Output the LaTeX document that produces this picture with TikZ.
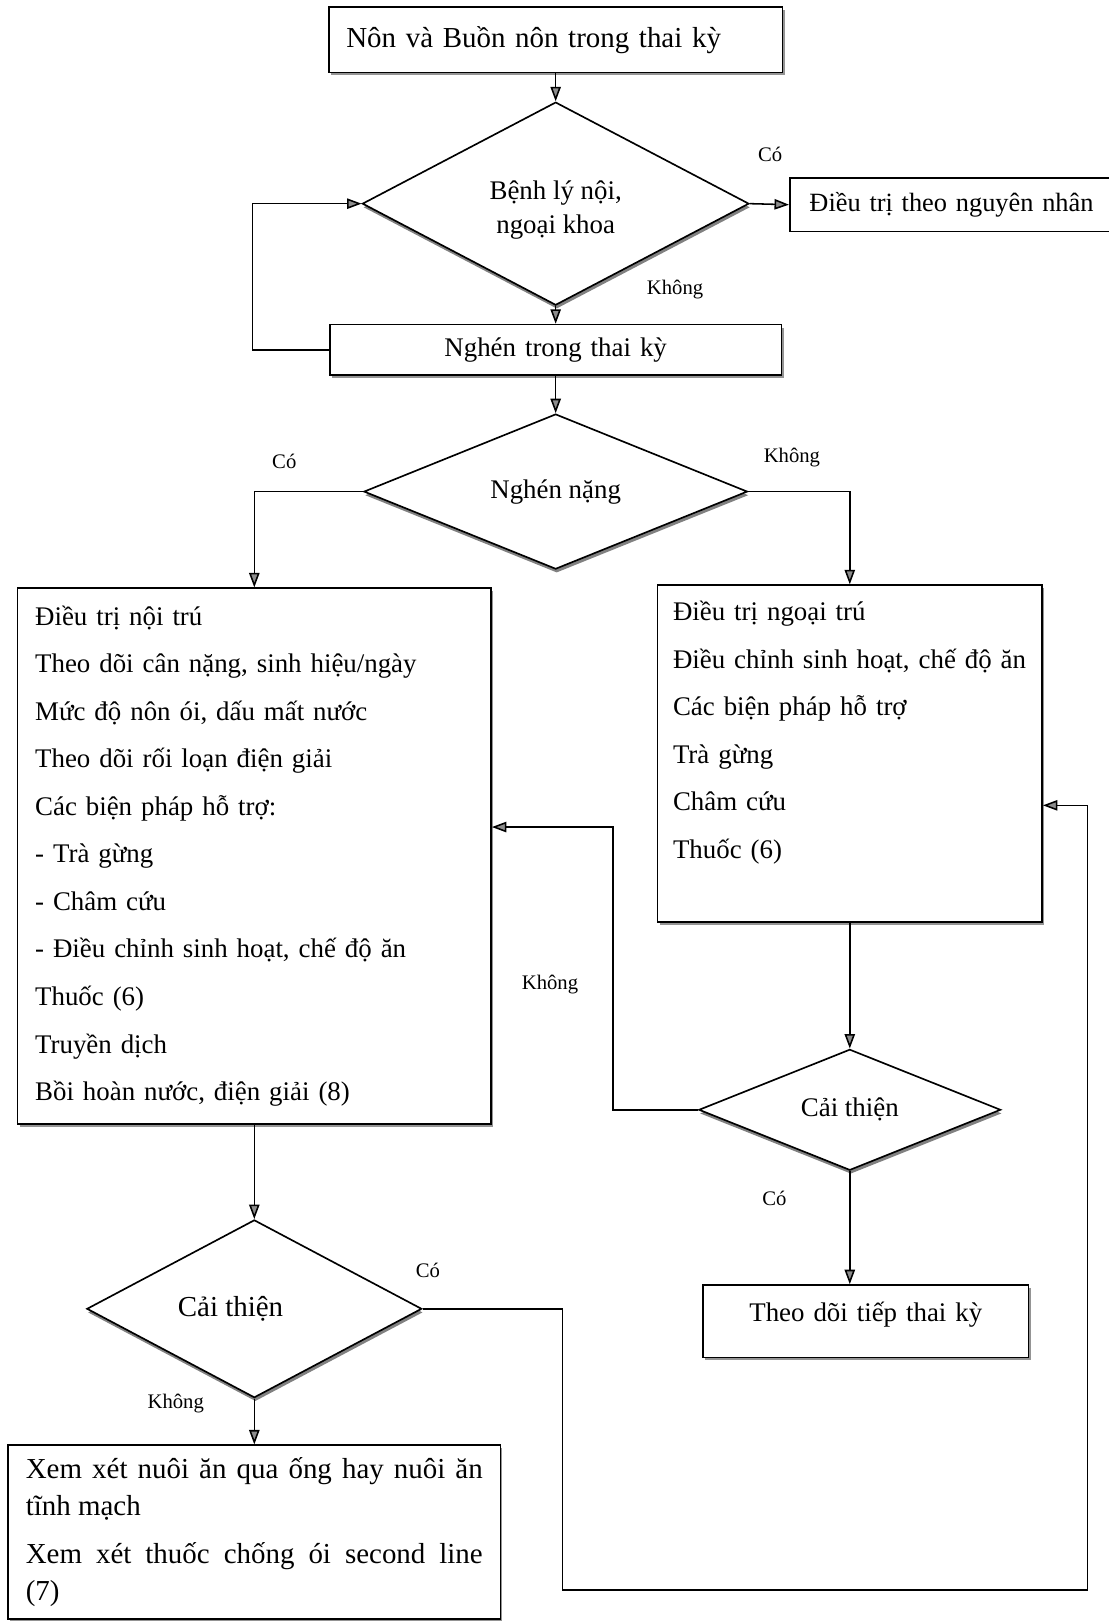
\documentclass[tikz,border=0pt]{standalone}
\usepackage{fontspec}
\setmainfont{Liberation Serif}
\usetikzlibrary{shapes.geometric,arrows.meta,shadows}
\setlength{\parindent}{0pt}

\begin{document}
\begin{tikzpicture}[x=1pt,y=-1pt,
    plain/.style={draw, line width=1.6pt, fill=white, rectangle, inner xsep=17pt, inner ysep=0pt, align=left, font=\fontsize{26}{46}\selectfont},
    box/.style={plain, drop shadow={shadow xshift=2pt, shadow yshift=-3pt, fill=black!70, opacity=0.6}},
    ask/.style={draw, line width=1.6pt, fill=white, diamond, inner sep=0pt, align=center, font=\fontsize{26}{33}\selectfont, drop shadow={shadow xshift=1pt, shadow yshift=-3.5pt, fill=black!70, opacity=0.7}},
    lbl/.style={font=\fontsize{20}{24}\selectfont, inner sep=0pt},
    arr/.style={line width=1.5pt, -{Triangle[length=14pt,width=10pt,fill=black!45]}}
]
    \useasboundingbox (0,0) rectangle (1072,1568);

    % boxes and questions
    \node[box, text width=405pt, minimum height=63pt, font=\fontsize{28}{30}\selectfont] (start) at (537.5,38.5) {Nôn và Buồn nôn trong thai kỳ};
    \node[ask, minimum width=374pt, minimum height=124pt] (benh) at (537.5,197) {\rule{0pt}{30pt}Bệnh lý nội,\\ngoại khoa};
    \node[plain, text width=298pt, inner xsep=19pt, minimum height=52pt, font=\fontsize{25.5}{30}\selectfont] (cause) at (932,198) {Điều trị theo nguyên nhân};
    \node[box, text width=403pt, align=center, minimum height=49pt] (nghen) at (537.5,338.5) {Nghén trong thai kỳ};
    \node[ask, minimum width=371pt, minimum height=109pt] (nang) at (537.5,475.5) {Nghén nặng};

    \node[box, text width=424pt, minimum height=518pt] (noitru) at (246,828) {Điều trị nội trú\\Theo dõi cân nặng, sinh hiệu/ngày\\Mức độ nôn ói, dấu mất nước\\Theo dõi rối loạn điện giải\\Các biện pháp hỗ trợ:\\- Trà gừng\\- Châm cứu\\- Điều chỉnh sinh hoạt, chế độ ăn\\Thuốc (6)\\Truyền dịch\\Bồi hoàn nước, điện giải (8)};
    \node[box, text width=342pt, inner xsep=15pt, minimum height=326pt] (ngoaitru) at (822,729) {Điều trị ngoại trú\\Điều chỉnh sinh hoạt, chế độ ăn\\Các biện pháp hỗ trợ\\Trà gừng\\Châm cứu\\Thuốc (6)\\ \mbox{}};

    \node[ask, minimum width=292pt, minimum height=81pt] (caithien1) at (822,1073.5) {Cải thiện};
    \node[box, text width=281pt, align=center, minimum height=70pt] (theodoi) at (837.5,1278) {Theo dõi tiếp thai kỳ\\[-28pt]\mbox{}};
    \node[ask, minimum width=324pt, minimum height=94pt, font=\fontsize{28}{33}\selectfont] (caithien2) at (246,1266) {Cải thiện\hspace*{46pt}};
    \node[box, text width=442pt, align=justify, minimum height=168pt, font=\fontsize{28}{36}\selectfont] (nuoian) at (246,1482) {Xem xét nuôi ăn qua ống hay nuôi ăn\linebreak tĩnh mạch\par\vspace{10pt}Xem xét thuốc chống ói second line\linebreak (7)};

    % labels
    \node[lbl] (co1) at (745,149) {Có};
    \node[lbl] (khong1) at (653,280) {Không};
    \node[lbl] (co2) at (275,446) {Có};
    \node[lbl] (khong2) at (766,443) {Không};
    \node[lbl] (khong3) at (532,952) {Không};
    \node[lbl] (co3) at (749,1159) {Có};
    \node[lbl] (co4) at (414,1229) {Có};
    \node[lbl] (khong4) at (170,1358) {Không};

    \coordinate (vong1) at (593,800);
    \coordinate (vong2) at (544,1538);
    \coordinate (vong3) at (1052,1538);

    % connectors
    \draw[arr] (start) -- (benh);
    \draw[arr] (benh.east) -- (cause.west);
    \draw[arr] (benh) -- (nghen);
    \draw[arr] (nghen.west) -- ++(-74,0) |- (benh.west);
    \draw[arr] (nghen) -- (nang);
    \draw[arr] (nang.west) -| (noitru);
    \draw[arr] (nang.east) -| (ngoaitru);
    \draw[arr] (ngoaitru) -- (caithien1);
    \draw[arr] (caithien1.west) -| (vong1) -- ([yshift=28pt]noitru.east);
    \draw[arr] (caithien1) -- (caithien1 |- theodoi.north);
    \draw[arr] (noitru) -- (caithien2);
    \draw[arr] (caithien2.east) -| (vong2) -- (vong3) |- ([yshift=-50pt]ngoaitru.east);
    \draw[arr] (caithien2) -- (nuoian);
\end{tikzpicture}
\end{document}
